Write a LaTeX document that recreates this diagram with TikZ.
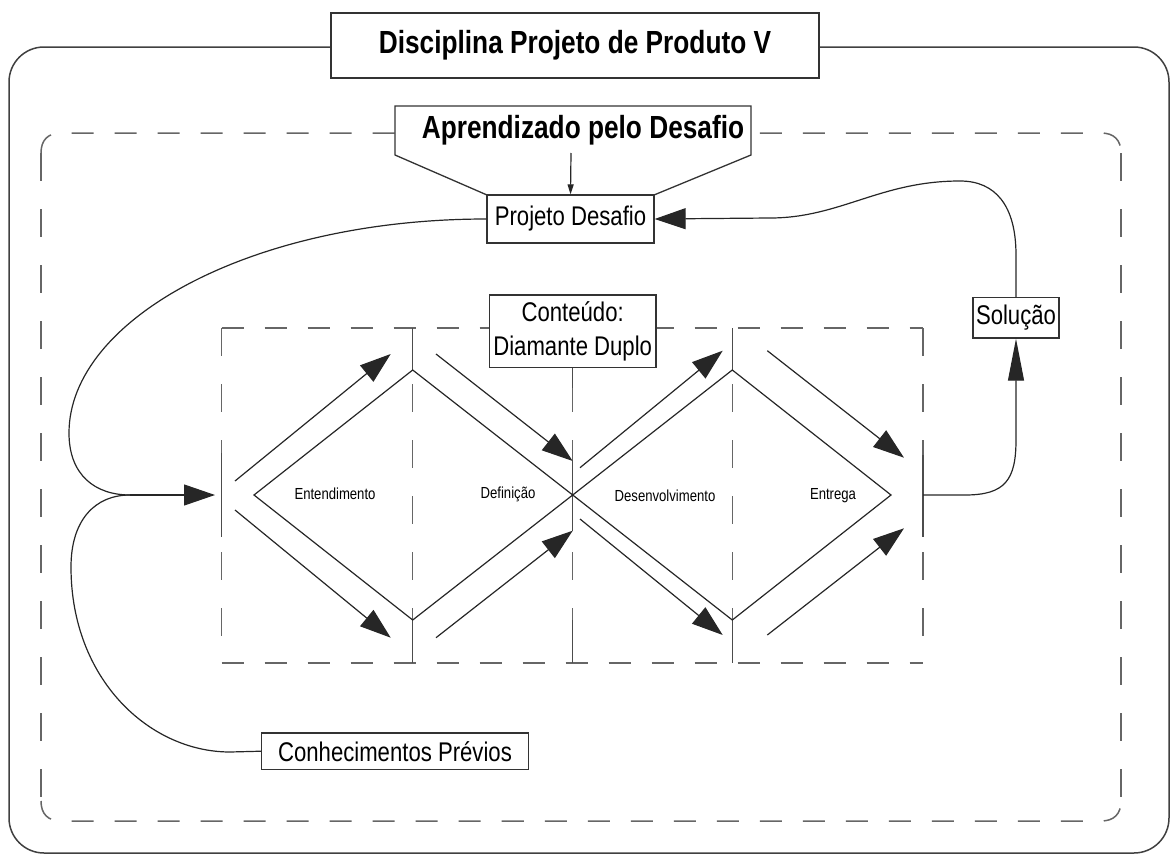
\documentclass[tikz,border=0pt]{standalone}
\usepackage{fontspec}
\setmainfont{Liberation Sans}
\newfontfamily\narrow[FakeStretch=0.82]{Liberation Sans}
\usetikzlibrary{arrows.meta}

\tikzset{
  box/.style={draw=black!80, line width=1.3pt, fill=white, inner sep=0pt,
    font=\narrow\fontsize{27}{33.3}\selectfont},
  conn/.style={draw=black!85, line width=1.2pt},
  tick/.style={draw=black!70, line width=1.2pt},
  hdash/.style={draw=black!60, line width=1.5pt, dash pattern=on 22pt off 21pt},
  vdash/.style={draw=black!60, line width=1.5pt, dash pattern=on 28pt off 28pt},
  bigtip/.style={-{Triangle[length=31pt,width=21pt]}},
  longtip/.style={-{Triangle[length=42pt,width=16pt]}},
  smalltip/.style={-{Triangle[length=10pt,width=6pt]}},
  phase/.style={font=\narrow\fontsize{16}{19}\selectfont, inner sep=0pt},
  heading/.style={font=\narrow\bfseries\fontsize{32}{38}\selectfont, inner sep=0pt}
}

\begin{document}
\begin{tikzpicture}[x=1pt, y=-1pt, line join=miter]
\useasboundingbox (0,0) rectangle (1171,854);

% outer frame of the course
\draw[draw=black!75, line width=1.5pt, rounded corners=35pt] (9,47) rectangle (1169,853);

% dashed frame of the challenge-based learning
\draw[hdash] (41,153) .. controls (41,140) and (48,133) .. (61,133) -- (1101,133)
  .. controls (1114,133) and (1121,140) .. (1121,153);
\draw[hdash] (41,801) .. controls (41,814) and (48,821) .. (61,821) -- (1101,821)
  .. controls (1114,821) and (1121,814) .. (1121,801);
\draw[vdash] (41,153) -- (41,801);
\draw[vdash] (1121,153) -- (1121,801);

% course title
\node[box, minimum width=488pt, minimum height=65pt,
  font=\narrow\bfseries\fontsize{32}{38}\selectfont] (title) at (575,45.5)
  {Disciplina Projeto de Produto V};

% funnel with the learning approach
\draw[draw=black!80, line width=1.3pt, fill=white]
  (395,106) -- (751,106) -- (751,155) -- (654,195) -- (487,195) -- (395,155) -- cycle;
\node[heading] (apd) at (583,130) {Aprendizado pelo Desafio};
\coordinate (funnelout) at (571,153);

% double diamond frame
\draw[hdash] (221.7,328) -- (923,328);
\draw[hdash] (221.7,663) -- (923,663);
\draw[vdash] (221.7,328) -- (221.7,663);
\draw[vdash] (923,328) -- (923,663);
\draw[vdash] (412.7,328) -- (412.7,663);
\draw[vdash] (572.7,328) -- (572.7,663);
\draw[vdash] (732.3,328) -- (732.3,663);

% solid ticks where arrows meet
\draw[tick] (221.7,453) -- (221.7,537);
\draw[tick] (412.7,328) -- (412.7,370);
\draw[tick] (412.7,620) -- (412.7,663);
\draw[tick] (572.7,367) -- (572.7,388);
\draw[tick] (572.7,461) -- (572.7,531);
\draw[tick] (572.7,620) -- (572.7,663);
\draw[tick] (732.3,328) -- (732.3,370);
\draw[tick] (732.3,620) -- (732.3,663);
\draw[tick] (923,455) -- (923,537);

% the two diamonds
\draw[conn] (254,495) -- (412.7,370) -- (572.7,495) -- (412.7,620) -- cycle;
\draw[conn] (572.7,495) -- (732.3,370) -- (891,495) -- (732.3,620) -- cycle;

% diverging / converging arrows
\coordinate (a1s) at (235,481);   \coordinate (a1e) at (390.7,354);
\coordinate (a2s) at (235,510);   \coordinate (a2e) at (390.7,637.7);
\coordinate (a3s) at (436,354);   \coordinate (a3e) at (572.7,461);
\coordinate (a4s) at (436,637.7); \coordinate (a4e) at (572.7,530.7);
\coordinate (a5s) at (580,467.7); \coordinate (a5e) at (722.7,350.7);
\coordinate (a6s) at (580,519);   \coordinate (a6e) at (722.7,635);
\coordinate (a7s) at (767.3,350.7); \coordinate (a7e) at (904,457.7);
\coordinate (a8s) at (767.3,635); \coordinate (a8e) at (904,528.3);
\foreach \a in {1,...,8}
  \draw[conn, bigtip] (a\a s) -- (a\a e);

% phase labels
\node[phase] (ent) at (335,494) {Entendimento};
\node[phase] (def) at (508,494) {Definição};
\node[phase] (des) at (665,495.7) {Desenvolvimento};
\node[phase] (etg) at (833,496) {Entrega};

% boxes
\node[box, minimum width=167pt, minimum height=48pt] (pd) at (570.5,219) {Projeto Desafio};
\node[box, minimum width=166.7pt, minimum height=72.7pt, align=center] (cont) at (572.7,331.3)
  {Conteúdo:\\Diamante Duplo};
\node[box, minimum width=86pt, minimum height=40.3pt] (sol) at (1016,317.9) {Solução};
\node[box, minimum width=266.6pt, minimum height=36.3pt] (cp) at (395,751.2) {Conhecimentos Prévios};

% connectors
\coordinate (merge) at (130,495);
\coordinate (entry) at (215,495);
\coordinate (exit) at (923,495);

\draw[conn, smalltip] (funnelout) -- (pd.north);
\draw[conn] (pd.west) .. controls (250,219) and (69,320) .. (69,433)
  .. controls (69,475) and (95,495) .. (merge);
\draw[conn] (cp.west) -- (230,752) .. controls (150,752) and (71,680) .. (71,567)
  .. controls (71,520) and (95,495) .. (merge);
\draw[conn, bigtip] (merge) -- (entry);
\draw[conn, longtip] (exit) -- (965,495) .. controls (1005,495) and (1016,480) .. (1016,440)
  -- (sol.south);
\draw[conn, bigtip] (sol.north) -- (1016,255) .. controls (1016,205) and (995,181) .. (960,181)
  .. controls (880,181) and (840,218) .. (770,218) -- (pd.east);
\end{tikzpicture}
\end{document}
